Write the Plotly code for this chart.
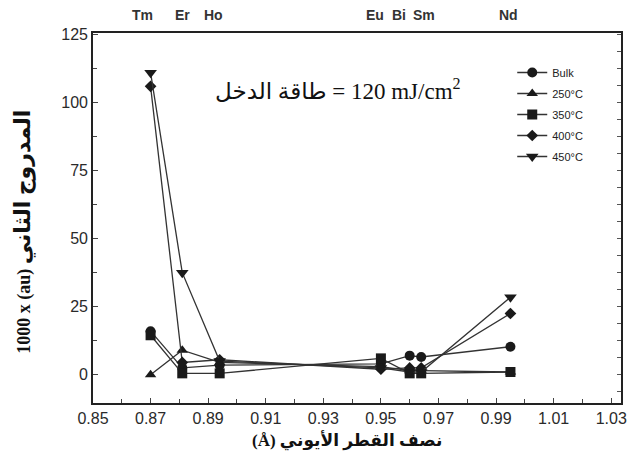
import plotly.graph_objects as go

# Ionic radii (Å) of the dopant ions
radius = [0.87, 0.881, 0.894, 0.95, 0.96, 0.964, 0.995]
elements = ["Tm", "Er", "Ho", "Eu", "Bi", "Sm", "Nd"]

# Second-harmonic signal (x1000, a.u.) per annealing condition
bulk = [16, 2.5, 3.5, 4, 7, 6.5, 10.3]
t250 = [0, 9, 4.5, 3, 1.5, 1.5, 1]
t350 = [14.5, 0.5, 0.5, 6, 0.5, 0.5, 1]
t400 = [106, 4.5, 5.5, 2, 2.5, 2.5, 22.5]
t450 = [111, 37.5, 5, 2.5, 1, 1, 28.5]

series = [
    ("Bulk", bulk, "circle", 10),
    ("250°C", t250, "triangle-up", 10),
    ("350°C", t350, "square", 10),
    ("400°C", t400, "diamond", 9),
    ("450°C", t450, "triangle-down", 11),
]

fig = go.Figure()
for i, (name, vals, sym, size) in enumerate(series):
    fig.add_trace(go.Scatter(
        x=radius, y=vals, name=name, legendgroup=f"g{i}",
        mode="lines+markers",
        line=dict(color="#333333", width=1.3),
        marker=dict(symbol=sym, size=size, color="#1a1a1a"),
    ))

# Right-hand axis carrying the finer tick marks
fig.add_trace(go.Scatter(x=[None], y=[None], yaxis="y2", showlegend=False))

axis_font = dict(family="Arial, Liberation Sans", size=16, color="#2a2a2a")
xr = [0.85, 1.0334]
yr = [-10.4, 125.6]


def px(x):
    return (x - 93) / 534


def py(y):
    return 1 - (y - 33) / 370


fig.update_layout(
    width=635, height=467,
    margin=dict(l=93, r=8, t=33, b=64),
    paper_bgcolor="white", plot_bgcolor="white",
    showlegend=True,
    legend=dict(
        x=px(517), y=py(58), xanchor="left", yanchor="top",
        bgcolor="rgba(0,0,0,0)", borderwidth=0,
        font=dict(family="Arial, Liberation Sans", size=11, color="#222222"),
        traceorder="grouped", tracegroupgap=2,
    ),
    xaxis=dict(
        range=xr, tickmode="linear", tick0=0.85, dtick=0.02,
        tickformat=".2f", ticks="inside", ticklen=5, tickcolor="#444",
        minor=dict(dtick=0.01, ticks="inside", ticklen=4, tickcolor="#444"),
        showline=True, linecolor="#222222", linewidth=1.6, mirror=True,
        showgrid=False, zeroline=False, tickfont=axis_font,
    ),
    yaxis=dict(
        range=yr, tickmode="array", tickvals=[0, 25, 50, 75, 100, 125],
        ticks="inside", ticklen=5, tickcolor="#444",
        minor=dict(tickmode="array", tickvals=[12.5, 37.5, 62.5, 87.5, 112.5],
                   ticks="inside", ticklen=4, tickcolor="#444"),
        showline=True, linecolor="#222222", linewidth=1.6, mirror=True,
        showgrid=False, zeroline=False, tickfont=axis_font,
    ),
    yaxis2=dict(
        range=yr, overlaying="y", side="right", tickmode="linear",
        tick0=0, dtick=6.25, ticks="inside", ticklen=4, tickcolor="#555",
        showticklabels=False, showgrid=False, zeroline=False, showline=False,
    ),
)

# Element labels along the top, placed over each ion's radius
label_shift = [-8, 0, -6, -6, -11, 3, -2]
for el, r, dx in zip(elements, radius, label_shift):
    fig.add_annotation(
        x=r, y=1.0, xref="x", yref="paper", yanchor="bottom", yshift=8,
        xshift=dx, text=f"<b>{el}</b>", showarrow=False,
        font=dict(family="Arial, Liberation Sans", size=14, color="#333333"),
    )

# Input-energy note
fig.add_annotation(
    x=px(341), y=py(89), xref="paper", yref="paper",
    xanchor="center", yanchor="middle",
    text="طاقة الدخل\u200e = 120 mJ/cm<sup>2</sup>", showarrow=False,
    font=dict(family="Liberation Serif, DejaVu Serif, DejaVu Sans", size=23, color="#111111"),
)

# Axis titles
fig.add_annotation(
    x=px(350), y=py(440), xref="paper", yref="paper",
    xanchor="center", yanchor="middle",
    text="<b>(Å) نصف القطر الأيوني</b>", showarrow=False,
    font=dict(family="Liberation Serif, DejaVu Sans", size=17, color="#111111"),
)
fig.add_annotation(
    x=px(22), y=py(232), xref="paper", yref="paper",
    xanchor="center", yanchor="middle",
    text="<b>1000 x (au) <span style='font-size:22px'>المدروج الثاني</span></b>",
    showarrow=False, textangle=-90,
    font=dict(family="Liberation Serif, DejaVu Sans", size=18, color="#111111"),
)

fig.write_html("out.html")
